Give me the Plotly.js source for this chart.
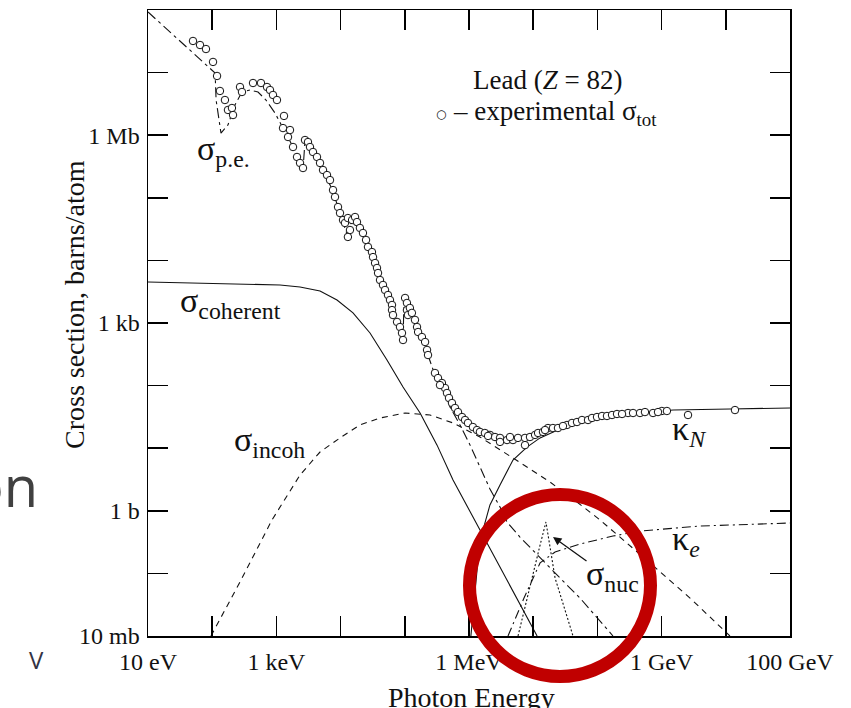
<!DOCTYPE html>
<html><head><meta charset="utf-8">
<script src="https://cdn.plot.ly/plotly-3.0.1.min.js"></script>
<style>html,body{margin:0;padding:0;background:#fff;overflow:hidden}#chart{width:851px;height:708px}</style>
</head><body><div id="chart"></div>
<script>
// Photon energy in eV, cross sections in barns/atom (lead, Z = 82)
const expE = [50.2,64.6,80.0,103,119,132,158,176,203,211,271,291,432,575,714,795,885,1021,1313,1267,1629,1517,1815,2094,2333,2596,2788,3105,3336,3715,4290,4780,5320,6140,6840,7620,8180,9120,9790,1.09e4,1.17e4,1.30e4,1.51e4,1.68e4,1.80e4,1.40e4,1.30e4,2.00e4,2.23e4,2.49e4,2.67e4,3.08e4,3.20e4,3.44e4,3.69e4,3.83e4,4.11e4,4.57e4,4.92e4,5.47e4,5.88e4,6.32e4,6.32e4,6.55e4,7.57e4,8.41e4,9.04e4,9.38e4,1.01e5,1.08e5,1.08e5,1.12e5,1.20e5,1.29e5,1.44e5,1.55e5,1.61e5,1.85e5,2.07e5,2.22e5,2.30e5,2.95e5,3.29e5,3.79e5,4.23e5,4.54e5,4.88e5,5.43e5,6.05e5,6.74e5,7.78e5,8.67e5,9.64e5,1.15e6,1.33e6,1.48e6,1.77e6,2.12e6,2.54e6,3.04e6,3.04e6,3.91e6,4.84e6,5.80e6,7.45e6,7.45e6,8.91e6,1.07e7,1.19e7,1.42e7,1.70e7,2.03e7,2.43e7,3.36e7,4.02e7,4.81e7,5.75e7,7.14e7,8.24e7,9.86e7,1.18e8,1.41e8,1.69e8,3.00e8,3.59e8,4.61e8,7.35e8,1.01e9,1.21e9,2.58e9,1.39e10,2.02e8,2.42e8,5.51e8,8.79e8,3.53e5,1.98e6,4.35e6,1.53e7,2.91e7];
const expSigma = [3.20e7,2.76e7,2.38e7,1.48e7,8.83e6,5.09e6,3.65e6,2.53e6,2.72e6,2.10e6,5.89e6,4.90e6,6.82e6,6.82e6,5.89e6,5.27e6,4.39e6,3.65e6,2.03e6,1.30e6,1.21e6,9.36e5,6.48e5,4.49e5,3.60e5,2.99e5,8.38e5,7.78e5,6.48e5,5.39e5,4.49e5,3.60e5,2.78e5,2.31e5,1.92e5,1.33e5,1.03e5,7.13e4,5.71e4,4.42e4,3.96e4,4.75e4,4.42e4,4.93e4,4.10e4,3.06e4,2.37e4,3.30e4,2.74e4,2.12e4,1.64e4,1.36e4,1.13e4,9080,7570,6290,4860,4050,3370,2800,2330,1940,1610,1340,1040,863,692,535,2510,2090,1610,1340,1740,1450,1120,863,718,597,497,371,308,159,132,110,91.6,76.2,63.4,52.7,43.9,37.8,31.5,28.2,25.3,21.8,19.5,18.2,17.5,16.3,15.1,14.6,12.6,13.5,13.5,14.6,11.2,14.6,15.1,16.3,17.5,18.2,21.0,21.0,21.0,23.5,25.3,26.2,28.2,28.2,30.4,31.5,32.7,32.7,33.9,36.5,36.5,36.5,36.5,39.3,39.3,33.9,40.7,35.2,35.2,37.8,37.8,102,15.7,15.1,19.5,22.6];

const peE = [10,31.5,111,115,128,137,176,226,291,388,517,688,951,1267,1815,2596,2788,3715,5320,7620,9790,1.26e4,1.35e4,1.45e4,2.00e4,2.67e4,3.44e4,4.57e4,6.32e4,8.41e4,9.38e4,9.72e4,1.20e5,1.61e5,2.07e5,2.95e5,4.23e5,5.06e5,7.24e5,1.04e6,1.48e6,2.12e6,3.04e6,3.91e6,6.22e6,1.28e7,2.61e7,5.36e7,1.02e8,1.75e8];
const peSigma = [9.29e7,3.20e7,9.86e6,3.65e6,1.75e6,1.08e6,1.46e6,3.03e6,4.90e6,5.27e6,4.90e6,3.65e6,2.26e6,1.30e6,6.48e5,2.78e5,8.07e5,5.20e5,2.68e5,1.29e5,5.51e4,2.64e4,2.28e4,4.26e4,3.18e4,1.58e4,8750,3900,1740,773,497,2330,1610,692,414,148,76.2,45.5,23.5,11.2,5.01,2.23,1.15,0.662,0.381,0.176,0.0845,0.0404,0.0187,0.01];

const cohE = [10,64.6,388,1138,2333,4780,8790,1.56e4,2.87e4,5.28e4,9.38e4,1.73e5,3.18e5,5.64e5,1.11e6,3.04e6,1.15e7];
const cohSigma = [4520,4350,4200,4050,3760,3240,2330,1450,692,256,95.1,36.5,11.2,3.10,0.857,0.126,0.01];

const incohE = [95.7,271,853,2333,4780,9790,2.00e4,4.11e4,1.01e5,2.47e5,5.64e5,1.48e6,4.84e6,1.83e7,4.81e7,1.10e8,6.59e8,2.77e9,1.16e10];
const incohSigma = [0.01,0.0730,0.713,3.73,8.69,14.6,23.5,30.4,36.5,33.9,25.3,15.1,6.97,2.88,1.38,0.713,0.147,0.0404,0.01];

const kNE = [1.07e6,1.20e6,1.38e6,1.65e6,2.12e6,3.04e6,4.84e6,8.00e6,1.28e7,2.61e7,7.67e7,2.02e8,1.51e9,1.16e10,1e11];
const kNSigma = [0.01,0.0376,0.164,0.493,1.24,2.58,6.48,10.4,14.6,20.3,27.2,33.9,40.7,42.3,43.9];

const keE = [4.05e6,7.19e6,1.28e7,2.19e7,5.36e7,1.75e8,4.61e8,3.96e9,1e11];
const keSigma = [0.01,0.0404,0.147,0.220,0.295,0.395,0.475,0.571,0.638];

const nucE = [5.80e6,8.91e6,1.28e7,1.58e7,1.83e7,2.19e7,3.13e7,4.17e7];
const nucSigma = [0.01,0.0653,0.284,0.662,0.255,0.0845,0.0260,0.01];

const xTickVals = [1e1,1e2,1e3,1e4,1e5,1e6,1e7,1e8,1e9,1e10,1e11];
const xTickText = ['10 eV','','1 keV','','','1 MeV','','','1 GeV','','100 GeV'];
const yTickVals = [1e-2,1e-1,1e0,1e1,1e2,1e3,1e4,1e5,1e6,1e7,1e8];
const yTickText = ['10 mb','','1 b','','','1 kb','','','1 Mb','',''];

const INK = '#111';
const SERIF = 'Liberation Serif, Times New Roman, serif';
function line(x, y, dash) {
  return {x: x, y: y, type: 'scatter', mode: 'lines', hoverinfo: 'skip',
          line: {color: INK, width: 1.1, dash: dash}};
}
const traces = [
  line(peE, peSigma, '10px,4px,3px,4px'),
  line(cohE, cohSigma, 'solid'),
  line(incohE, incohSigma, '6px,5px'),
  line(kNE, kNSigma, 'solid'),
  line(keE, keSigma, '9px,4px,2px,4px'),
  line(nucE, nucSigma, '2px,2px'),
  {x: expE, y: expSigma, type: 'scatter', mode: 'markers',
   marker: {symbol: 'circle', size: 7.5, color: '#fff', line: {color: INK, width: 1}}}
];

// pixel -> paper helpers for label placement
const PX = p => (p - 148) / 642;
const PY = p => (636 - p) / 626;
function lab(text, x, y, size, anchor, extra) {
  return Object.assign({text: text, xref: 'paper', yref: 'paper', x: PX(x), y: PY(y),
    xanchor: anchor || 'left', yanchor: 'middle', showarrow: false,
    font: {family: SERIF, size: size, color: INK}}, extra || {});
}
const annotations = [
  lab('σ<sub>p.e.</sub>', 195, 151, 34),
  lab('σ<sub>coherent</sub>', 178, 303, 34),
  lab('σ<sub>incoh</sub>', 232, 442, 34),
  lab('κ<sub><i>N</i></sub>', 670, 431, 34),
  lab('κ<sub><i>e</i></sub>', 670, 541, 34),
  lab('σ<sub>nuc</sub>', 584, 576, 34),
  lab('Lead (<i>Z</i> = 82)', 547, 80, 27, 'center'),
  {text: '○', xref: 'paper', yref: 'paper', x: PX(441), y: PY(114), xanchor: 'center', yanchor: 'middle',
   showarrow: false, font: {family: 'DejaVu Sans, sans-serif', size: 12, color: INK}},
  lab('– experimental σ<sub>tot</sub>', 451, 113, 27),
  lab('Cross section, barns/atom', 74, 305, 28, 'center', {textangle: -90}),
  lab('Photon Energy', 471, 697, 28, 'center'),
  {text: '', xref: 'paper', yref: 'paper', x: PX(553), y: PY(537), showarrow: true,
   ax: 35, ay: 25, arrowhead: 2, arrowsize: 1.3, arrowwidth: 1.3, arrowcolor: INK},
  {text: 'on', xref: 'paper', yref: 'paper', x: PX(40), y: PY(485), xanchor: 'right', yanchor: 'middle',
   showarrow: false, font: {family: 'Open Sans, sans-serif', size: 56, color: '#404040'}},
  {text: 'V', xref: 'paper', yref: 'paper', x: PX(36), y: PY(659), xanchor: 'center', yanchor: 'middle',
   showarrow: false, font: {family: 'Open Sans, sans-serif', size: 24, color: '#333344'}}
];

const axisCommon = {
  type: 'log', tickmode: 'array', ticks: 'inside', ticklen: 20, tickwidth: 1.5, tickcolor: '#000',
  showline: true, linecolor: '#000', linewidth: 1.5, mirror: 'ticks',
  showgrid: false, zeroline: false, tickfont: {family: SERIF, size: 24, color: INK}
};
const layout = {
  width: 851, height: 708, autosize: false,
  margin: {l: 148, r: 61, t: 10, b: 72},
  paper_bgcolor: '#fff', plot_bgcolor: '#fff', showlegend: false,
  xaxis: Object.assign({}, axisCommon, {range: [1, 11], tickvals: xTickVals, ticktext: xTickText, ticklabelstandoff: 4}),
  yaxis: Object.assign({}, axisCommon, {range: [-2, 8], tickvals: yTickVals, ticktext: yTickText, ticklabelstandoff: 2}),
  annotations: annotations,
  shapes: [{type: 'circle', xref: 'paper', yref: 'paper', layer: 'above',
            x0: PX(469.5), x1: PX(650.5), y0: PY(676.5), y1: PY(494.5),
            line: {color: '#c00000', width: 13}}]
};
Plotly.newPlot('chart', traces, layout, {staticPlot: true, displayModeBar: false});
</script></body></html>
